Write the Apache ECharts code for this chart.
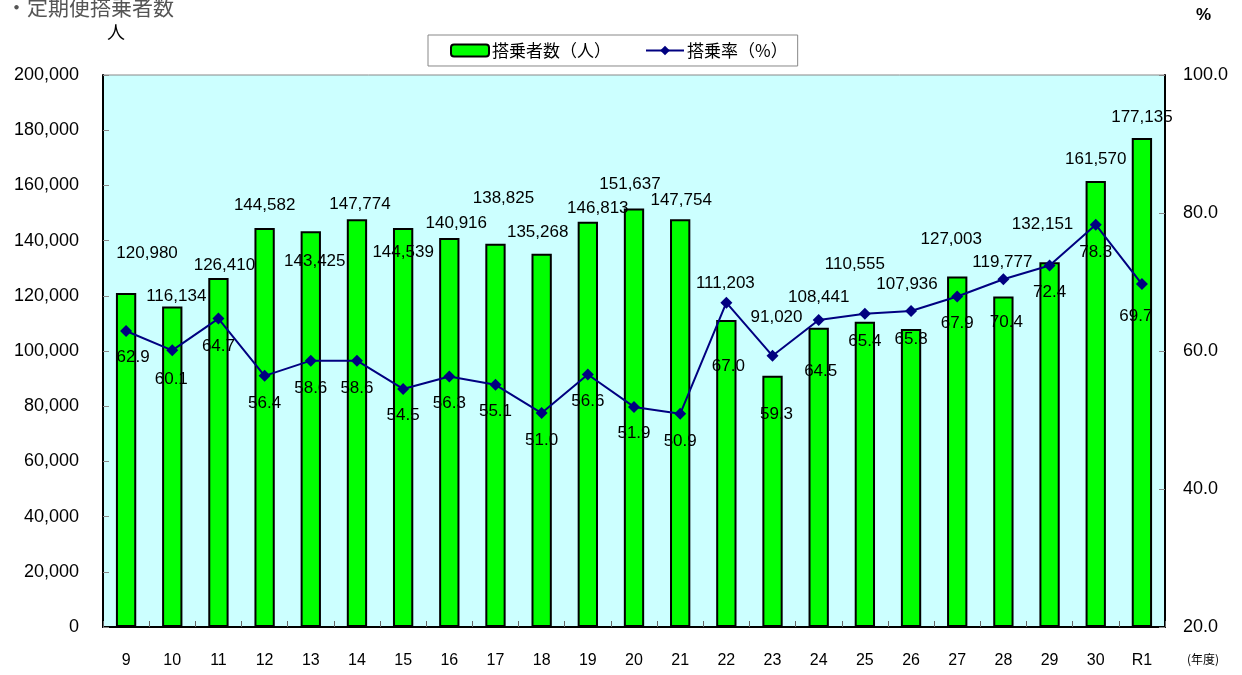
<!DOCTYPE html>
<html>
<head>
<meta charset="utf-8">
<script src="https://cdn.jsdelivr.net/npm/echarts@6/dist/echarts.min.js"></script>
<style>
  html, body { margin: 0; padding: 0; background: #fff; }
  #main { width: 1242px; height: 675px; }
</style>
</head>
<body>
<div id="main"></div>
<script>
// 年度
var years = ['9', '10', '11', '12', '13', '14', '15', '16', '17', '18', '19', '20',
  '21', '22', '23', '24', '25', '26', '27', '28', '29', '30', 'R1'];
// 搭乗者数（人）
var passengers = [120980, 116134, 126410, 144582, 143425, 147774, 144539, 140916,
  138825, 135268, 146813, 151637, 147754, 111203, 91020, 108441, 110555, 107936,
  127003, 119777, 132151, 161570, 177135];
// 搭乗率（%）
var rates = [62.9, 60.1, 64.7, 56.4, 58.6, 58.6, 54.5, 56.3, 55.1, 51.0, 56.6, 51.9,
  50.9, 67.0, 59.3, 64.5, 65.4, 65.8, 67.9, 70.4, 72.4, 78.3, 69.7];

// ラベル位置の手動調整（px, 元のExcelの配置に合わせる）
var barLabelDx = [21, 4, 6, 0, 4, 3, 0, 7, 8, -4, 10, -4, 1, -1, 4, 0, -10, -4, -6, -1, -7, 0, 0];
var barLabelDy = [-40, -11, -13, -23, 30, -15, 24, -15, -46, -22, -14, -25, -19, -37, -59, -31, -58, -45, -38, -35, -38, -22, -21];
var rateLabelDx = [7, -1, 0, 0, 0, 0, 0, 0, 0, 0, 0, 0, 0, 2, 4, 2, 0, 0, 0, 3, 0, 0, -6];
var rateLabelDy = [26, 29, 28, 27, 28, 28, 26, 27, 27, 27, 27, 26, 28, 64, 58, 51, 28, 28, 27, 43, 27, 28, 32];

var numFont = 'Liberation Sans';
var jpFont = 'Noto Sans CJK JP';

var barData = passengers.map(function (v, i) {
  return { value: v, label: { offset: [barLabelDx[i], barLabelDy[i] + 9] } };
});
var rateData = rates.map(function (v, i) {
  return { value: v, label: { offset: [rateLabelDx[i], rateLabelDy[i]] } };
});

var myChart = echarts.init(document.getElementById('main'));

var option = {
  backgroundColor: '#ffffff',
  animation: false,
  graphic: [
    { type: 'text', left: 6, top: -3, style: { text: '・定期便搭乗者数', font: '21px "Noto Sans CJK JP"', fill: '#555' } },
    { type: 'text', left: 107, top: 23, style: { text: '人', font: '18px "Noto Sans CJK JP"', fill: '#000' } },
    { type: 'text', left: 1196, top: 7, style: { text: '%', font: 'bold 17px "Liberation Sans"', fill: '#000' } },
    { type: 'text', left: 1187, top: 653, style: { text: '(年度)', font: '12px "Noto Sans CJK JP"', fill: '#000' } }
  ],
  legend: {
    left: 428,
    top: 35,
    padding: [7, 10, 7, 22],
    itemGap: 34,
    itemWidth: 38,
    itemHeight: 12,
    borderColor: '#888',
    borderWidth: 1,
    backgroundColor: '#fff',
    textStyle: { fontFamily: jpFont, fontSize: 17, color: '#000', padding: [0, 0, 0, -2] },
    data: ['搭乗者数（人）', '搭乗率（%）']
  },
  grid: {
    left: 103,
    right: 77,
    top: 75,
    bottom: 48,
    show: true,
    backgroundColor: '#ccffff',
    borderColor: '#888',
    borderWidth: 1,
    containLabel: false
  },
  xAxis: {
    type: 'category',
    data: years,
    axisLine: { lineStyle: { color: '#000', width: 2 } },
    axisTick: { show: true, inside: true, length: 6, lineStyle: { color: '#666' } },
    axisLabel: { fontFamily: numFont, fontSize: 16, color: '#000', margin: 26 }
  },
  yAxis: [
    {
      type: 'value',
      min: 0,
      max: 200000,
      interval: 20000,
      axisLine: { show: true, lineStyle: { color: '#000', width: 2 } },
      axisTick: { show: true, inside: true, length: 6, lineStyle: { color: '#888' } },
      splitLine: { show: false },
      axisLabel: {
        fontFamily: numFont, fontSize: 18, color: '#000', margin: 24,
        formatter: function (v) { return v.toLocaleString('en-US'); }
      }
    },
    {
      type: 'value',
      min: 20,
      max: 100,
      interval: 20,
      position: 'right',
      axisLine: { show: true, lineStyle: { color: '#000', width: 2 } },
      axisTick: { show: true, inside: true, length: 6, lineStyle: { color: '#888' } },
      splitLine: { show: false },
      axisLabel: {
        fontFamily: numFont, fontSize: 18, color: '#000', margin: 18,
        formatter: function (v) { return v.toFixed(1); }
      }
    }
  ],
  series: [
    {
      name: '搭乗者数（人）',
      type: 'bar',
      data: barData,
      barWidth: '44%',
      itemStyle: { color: '#00ff00', borderColor: '#000', borderWidth: 2 },
      label: {
        show: true,
        position: 'top',
        distance: 0,
        fontFamily: numFont,
        fontSize: 17,
        color: '#000',
        formatter: function (p) { return p.value.toLocaleString('en-US'); }
      },
      z: 2
    },
    {
      name: '搭乗率（%）',
      type: 'line',
      yAxisIndex: 1,
      data: rateData,
      symbol: 'diamond',
      symbolSize: 12,
      lineStyle: { color: '#000080', width: 2 },
      itemStyle: { color: '#000080' },
      label: {
        show: true,
        position: 'inside',
        fontFamily: numFont,
        fontSize: 17,
        color: '#000',
        formatter: function (p) { return p.value.toFixed(1); }
      },
      z: 3
    }
  ]
};

myChart.setOption(option);
</script>
</body>
</html>
